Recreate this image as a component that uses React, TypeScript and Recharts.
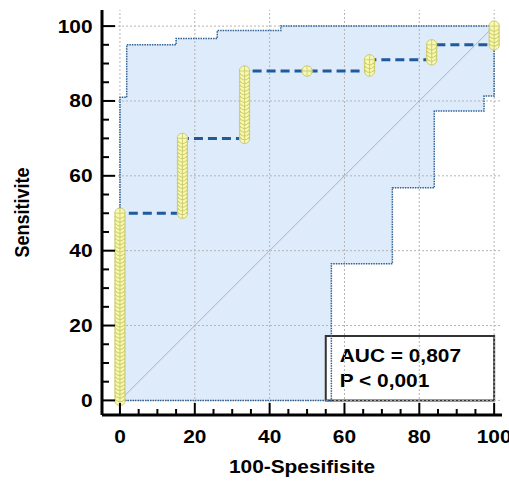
import React from "react";
import {
  Area,
  ComposedChart,
  Line,
  ReferenceArea,
  ReferenceLine,
  Scatter,
  XAxis,
  YAxis,
} from "recharts";

const INK = "#000000";
const BAND_FILL = "#bcd8f6";
const BAND_EDGE = "#2f6092";
const ROC_BLUE = "#1f5a9c";
const GRID = "#b4b4b4";
const DIAG = "#aeaec4";
const FONT = "'Liberation Sans', Arial, sans-serif";
const STRETCH = 1.16;

const MAJOR_TICKS = [0, 20, 40, 60, 80, 100];
const ALL_TICKS = [0, 5, 10, 15, 20, 25, 30, 35, 40, 45, 50, 55, 60, 65, 70, 75, 80, 85, 90, 95, 100];

// ROC curve corners (100-specificity, sensitivity), drawn as steps
const ROC_X = [0, 0, 16.7, 33.3, 66.7, 83.3, 100];
const ROC_Y = [0, 50, 70, 88, 91, 95, 100];

// 95% confidence band edges
const UPPER_X = [0, 0, 1.8, 15, 26, 43, 100];
const UPPER_Y = [0, 81, 95, 96.7, 98.8, 100, 100];
const LOWER_X = [0, 56.5, 72.8, 84, 97.3, 100];
const LOWER_Y = [0, 36.5, 56.8, 77.3, 81.3, 100];

// criterion points, one list of sensitivities per specificity step
const MARKS_0 = [
  0, 1, 2, 3, 4, 5, 6, 7, 8, 9, 10, 11, 12, 13, 14, 15, 16, 17, 18, 19, 20, 21, 22, 23, 24, 25,
  26, 27, 28, 29, 30, 31, 32, 33, 34, 35, 36, 37, 38, 39, 40, 41, 42, 43, 44, 45, 46, 47, 48, 49, 50,
];
const MARKS_17 = [50, 51, 52, 53, 54, 55, 56, 57, 58, 59, 60, 61, 62, 63, 64, 65, 66, 67, 68, 69, 70];
const MARKS_33 = [70, 71, 72, 73, 74, 75, 76, 77, 78, 79, 80, 81, 82, 83, 84, 85, 86, 87, 88];
const MARKS_50 = [88];
const MARKS_67 = [88, 89, 90, 91];
const MARKS_83 = [91, 92, 93, 94, 95];
const MARKS_100 = [95, 96, 97, 98, 99, 100];

const AUC_TEXT = "AUC = 0,807";
const P_TEXT = "P < 0,001";

const zip = (xs: number[], ys: number[]) => xs.map((x, i) => ({ x, y: ys[i] }));

const rocData = zip(ROC_X, ROC_Y);
const upperData = zip(UPPER_X, UPPER_Y);
const lowerData = zip(LOWER_X, LOWER_Y);

// value of a step edge at x (last corner at or before x)
const stepAt = (xs: number[], ys: number[], x: number) => {
  let v = ys[0];
  xs.forEach((px, i) => {
    if (px <= x) v = ys[i];
  });
  return v;
};

const bandXs = Array.from(new Set([...UPPER_X, ...LOWER_X])).sort((a, b) => a - b);
const bandData = bandXs.map((x) => ({
  x,
  band: [stepAt(LOWER_X, LOWER_Y, x), stepAt(UPPER_X, UPPER_Y, x)],
}));

const markData = [
  ...MARKS_0.map((y) => ({ x: 0, y })),
  ...MARKS_17.map((y) => ({ x: 16.7, y })),
  ...MARKS_33.map((y) => ({ x: 33.3, y })),
  ...MARKS_50.map((y) => ({ x: 50, y })),
  ...MARKS_67.map((y) => ({ x: 66.7, y })),
  ...MARKS_83.map((y) => ({ x: 83.3, y })),
  ...MARKS_100.map((y) => ({ x: 100, y })),
];

const textStyle = { fontFamily: FONT, fontWeight: 700, fontSize: 18, fill: INK } as const;

function Wide({ x, y, anchor = "start", children }: any) {
  return (
    <text transform={`translate(${x},${y}) scale(${STRETCH},1)`} textAnchor={anchor} {...textStyle}>
      {children}
    </text>
  );
}

function YTick({ x, y, payload }: any) {
  const v = payload.value;
  const major = v % 20 === 0;
  return (
    <g>
      <line x1={x} x2={x + (major ? 13 : 7)} y1={y} y2={y} stroke={INK} strokeWidth={2} />
      {major && (
        <Wide x={x - 9.5} y={y + 6.5} anchor="end">
          {v}
        </Wide>
      )}
    </g>
  );
}

function XTick({ x, y, payload }: any) {
  const v = payload.value;
  const major = v % 20 === 0;
  return (
    <g>
      <line x1={x} x2={x} y1={y} y2={y - (major ? 12 : 6)} stroke={INK} strokeWidth={2} />
      {major && (
        <Wide x={x} y={y + 28} anchor="middle">
          {v}
        </Wide>
      )}
    </g>
  );
}

function Marker({ cx, cy }: any) {
  const r = 5.2;
  return (
    <g>
      <circle cx={cx} cy={cy} r={r} fill="#fafaae" fillOpacity={0.9} stroke="#cccc6c" strokeWidth={1} />
      <line x1={cx - r} x2={cx + r} y1={cy} y2={cy} stroke="#c6c672" strokeWidth={0.8} />
      <line x1={cx} x2={cx} y1={cy - r} y2={cy + r} stroke="#c6c672" strokeWidth={0.8} />
    </g>
  );
}

function AucBox({ viewBox }: any) {
  const { x, y } = viewBox;
  return (
    <g>
      <Wide x={x + 14} y={y + 26}>{AUC_TEXT}</Wide>
      <Wide x={x + 14} y={y + 51}>{P_TEXT}</Wide>
    </g>
  );
}

export default function App() {
  return (
    <div style={{ position: "absolute", left: 0, top: 0, width: 509, height: 483, overflow: "hidden", background: "#fff" }}>
      <ComposedChart width={509} height={483} margin={{ top: 10, right: 7, bottom: 0, left: 0 }}>
        <XAxis
          type="number"
          dataKey="x"
          domain={[-4.8, 102.1]}
          ticks={ALL_TICKS}
          interval={0}
          allowDataOverflow
          height={68}
          tickSize={0}
          tickMargin={0}
          tickLine={false}
          axisLine={{ stroke: INK, strokeWidth: 3 }}
          tick={<XTick />}
          label={{
            content: ({ viewBox }: any) => (
              <Wide x={viewBox.x + viewBox.width / 2} y={viewBox.y + 58} anchor="middle">
                100-Spesifisite
              </Wide>
            ),
          }}
        />
        <YAxis
          type="number"
          dataKey="y"
          domain={[-3.9, 104.3]}
          ticks={ALL_TICKS}
          interval={0}
          allowDataOverflow
          width={102}
          tickSize={0}
          tickMargin={0}
          tickLine={false}
          axisLine={{ stroke: INK, strokeWidth: 3 }}
          tick={<YTick />}
          label={{
            content: ({ viewBox }: any) => (
              <text
                transform={`translate(${viewBox.x + 29},${viewBox.y + viewBox.height / 2}) scale(${STRETCH},1) rotate(-90)`}
                textAnchor="middle"
                {...textStyle}
              >
                Sensitivite
              </text>
            ),
          }}
        />
        {MAJOR_TICKS.map((v) => (
          <ReferenceLine key={`gx${v}`} x={v} stroke={GRID} strokeDasharray="2 2" />
        ))}
        {MAJOR_TICKS.map((v) => (
          <ReferenceLine key={`gy${v}`} y={v} stroke={GRID} strokeDasharray="2 2" />
        ))}
        {/* semi-transparent so the grid stays visible through the band */}
        <Area
          data={bandData}
          dataKey="band"
          type="stepAfter"
          fill={BAND_FILL}
          fillOpacity={0.5}
          stroke="none"
          isAnimationActive={false}
          activeDot={false}
        />
        <ReferenceLine segment={[{ x: 0, y: 0 }, { x: 100, y: 100 }]} stroke={DIAG} strokeWidth={1} />
        <Line
          data={upperData}
          dataKey="y"
          type="stepAfter"
          stroke={BAND_EDGE}
          strokeWidth={1.5}
          strokeDasharray="1.5 1"
          dot={false}
          activeDot={false}
          isAnimationActive={false}
        />
        <Line
          data={lowerData}
          dataKey="y"
          type="stepAfter"
          stroke={BAND_EDGE}
          strokeWidth={1.5}
          strokeDasharray="1.5 1"
          dot={false}
          activeDot={false}
          isAnimationActive={false}
        />
        <Line
          data={rocData}
          dataKey="y"
          type="stepAfter"
          stroke={ROC_BLUE}
          strokeWidth={3}
          strokeDasharray="9 5"
          dot={false}
          activeDot={false}
          isAnimationActive={false}
        />
        <Scatter data={markData} dataKey="y" shape={<Marker />} isAnimationActive={false} />
        <ReferenceArea
          x1={55}
          x2={100}
          y1={0}
          y2={17.2}
          fill="#ffffff"
          fillOpacity={1}
          stroke="#333333"
          strokeWidth={2}
          label={<AucBox />}
        />
      </ComposedChart>
    </div>
  );
}
